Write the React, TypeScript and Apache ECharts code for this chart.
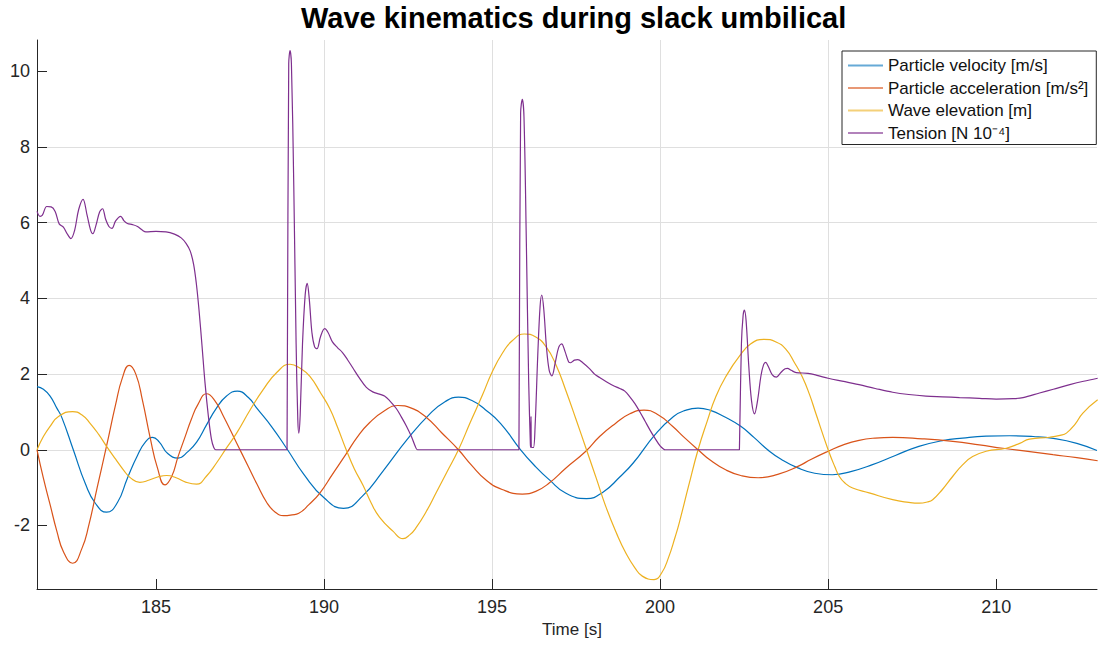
import React, { useEffect, useRef } from 'react';
import * as echarts from 'echarts';

const FONT = "'Liberation Sans', Arial, Helvetica, sans-serif";

const titleText = 'Wave kinematics during slack umbilical';
const xName = 'Time [s]';
const X_MIN = 181.46;
const X_MAX = 213.0;
const Y_MIN = -3.68;
const Y_MAX = 10.83;
const xTicks = [185, 190, 195, 200, 205, 210];
const yTicks = [-2, 0, 2, 4, 6, 8, 10];

const seriesNames = [
  'Particle velocity [m/s]',
  'Particle acceleration [m/s²]',
  'Wave elevation [m]',
  'Tension [N 10⁻⁴]',
];
const colors = ['#0072BD', '#D95319', '#EDB120', '#7E2F8E'];

const velocity: number[][] = [
  [181.46, 1.67], [181.65, 1.6], [181.85, 1.42], [182.05, 1.1], [182.2, 0.85], [182.54, 0.0],
  [182.9, -0.9], [183.2, -1.42], [183.53, -1.65], [183.85, -1.4], [184.15, -0.75], [184.45, -0.15],
  [184.7, 0.22], [184.9, 0.33], [185.1, 0.2], [185.35, -0.1], [185.66, -0.22], [185.95, -0.05],
  [186.21, 0.2], [186.5, 0.65], [186.8, 1.1], [187.1, 1.42], [187.42, 1.55], [187.75, 1.38],
  [188.0, 1.1], [188.45, 0.6], [188.9, 0.02], [189.4, -0.65], [190.0, -1.27], [190.58, -1.55],
  [191.15, -1.22], [191.75, -0.57], [192.5, 0.3], [193.15, 0.95], [193.6, 1.27], [194.0, 1.39],
  [194.4, 1.3], [194.8, 1.06], [195.25, 0.7], [195.85, 0.0], [196.3, -0.45], [196.7, -0.79],
  [197.2, -1.15], [197.81, -1.29], [198.3, -1.12], [198.8, -0.72], [199.2, -0.35], [199.85, 0.4],
  [200.4, 0.88], [200.75, 1.04], [201.13, 1.1], [201.5, 1.04], [201.9, 0.88], [202.4, 0.62],
  [202.8, 0.32], [203.2, 0.0], [203.6, -0.25], [204.1, -0.48], [204.6, -0.62], [205.13, -0.66],
  [205.7, -0.57], [206.3, -0.4], [207.0, -0.15], [207.7, 0.09], [208.4, 0.24], [209.0, 0.31],
  [209.7, 0.36], [210.4, 0.37], [211.1, 0.35], [211.7, 0.3], [212.4, 0.17], [213.0, -0.02],
];

const acceleration: number[][] = [
  [181.46, 0.0], [181.65, -0.75], [181.85, -1.45], [182.05, -2.15], [182.25, -2.7], [182.52, -3.0],
  [182.8, -2.6], [183.0, -2.0], [183.25, -1.0], [183.53, 0.1], [183.8, 1.2], [184.0, 1.9],
  [184.2, 2.23], [184.4, 2.0], [184.6, 1.3], [184.82, 0.35], [185.05, -0.5], [185.27, -0.93],
  [185.47, -0.7], [185.65, -0.2], [185.85, 0.3], [186.05, 0.8], [186.25, 1.2], [186.51, 1.48],
  [186.75, 1.3], [187.0, 0.9], [187.4, 0.18], [187.75, -0.45], [188.0, -0.9], [188.3, -1.4],
  [188.55, -1.65], [188.8, -1.74], [189.05, -1.72], [189.25, -1.68], [189.55, -1.45], [189.87, -1.15],
  [190.25, -0.65], [190.66, -0.11], [191.0, 0.35], [191.36, 0.72], [191.8, 1.03], [192.2, 1.17],
  [192.6, 1.1], [193.04, 0.86], [193.5, 0.45], [194.0, 0.0], [194.4, -0.42], [194.82, -0.8],
  [195.3, -1.05], [195.9, -1.17], [196.3, -1.1], [196.7, -0.88], [197.2, -0.48], [197.79, -0.04],
  [198.2, 0.35], [198.68, 0.7], [199.1, 0.95], [199.52, 1.05], [199.95, 0.92], [200.37, 0.62],
  [200.75, 0.3], [201.13, 0.0], [201.5, -0.28], [201.95, -0.53], [202.4, -0.68], [202.92, -0.74],
  [203.5, -0.65], [204.1, -0.44], [204.5, -0.25], [205.0, -0.04], [205.45, 0.13], [205.92, 0.25],
  [206.4, 0.31], [206.92, 0.33], [207.8, 0.29], [208.71, 0.22], [209.5, 0.13], [210.2, 0.04],
  [211.0, -0.05], [211.69, -0.13], [212.4, -0.21], [213.02, -0.29],
];

const elevation: number[][] = [
  [181.46, 0.0], [181.65, 0.35], [181.85, 0.62], [182.1, 0.88], [182.52, 1.01], [182.8, 0.92],
  [183.04, 0.7], [183.3, 0.4], [183.53, 0.09], [183.8, -0.25], [184.03, -0.53], [184.25, -0.75],
  [184.52, -0.86], [184.8, -0.8], [185.05, -0.72], [185.32, -0.68], [185.6, -0.74], [185.9, -0.86],
  [186.21, -0.91], [186.5, -0.7], [186.8, -0.35], [187.1, 0.05], [187.4, 0.44], [187.8, 1.05],
  [188.19, 1.59], [188.6, 2.05], [188.99, 2.26], [189.3, 2.15], [189.58, 1.94], [189.9, 1.5],
  [190.17, 1.09], [190.4, 0.6], [190.66, 0.0], [190.9, -0.5], [191.16, -0.94], [191.4, -1.4],
  [191.65, -1.78], [192.05, -2.15], [192.35, -2.35], [192.55, -2.25], [192.74, -2.06], [193.05, -1.62],
  [193.34, -1.13], [193.65, -0.6], [194.0, 0.0], [194.35, 0.72], [194.72, 1.46], [195.0, 2.05],
  [195.32, 2.57], [195.6, 2.88], [195.96, 3.06], [196.3, 2.98], [196.6, 2.73], [196.9, 2.25],
  [197.19, 1.58], [197.5, 0.8], [197.81, 0.0], [198.1, -0.75], [198.38, -1.49], [198.7, -2.2],
  [198.98, -2.73], [199.25, -3.12], [199.47, -3.34], [199.82, -3.43], [200.05, -3.25], [200.25, -2.85],
  [200.45, -2.3], [200.57, -1.93], [200.85, -0.95], [201.13, 0.0], [201.4, 0.75], [201.66, 1.41],
  [202.0, 2.0], [202.35, 2.46], [202.7, 2.8], [203.09, 2.92], [203.45, 2.85], [203.74, 2.66],
  [204.0, 2.3], [204.23, 1.93], [204.45, 1.45], [204.63, 0.97], [205.0, 0.0], [205.2, -0.45],
  [205.33, -0.7], [205.5, -0.88], [205.73, -1.01], [206.22, -1.14], [206.92, -1.32], [207.4, -1.39],
  [207.71, -1.41], [207.95, -1.38], [208.11, -1.32], [208.4, -1.05], [208.71, -0.7], [209.0, -0.4],
  [209.3, -0.18], [209.7, -0.04], [210.3, 0.04], [210.7, 0.17], [210.99, 0.28], [211.59, 0.33],
  [211.9, 0.38], [212.09, 0.44], [212.35, 0.68], [212.58, 0.97], [213.02, 1.32],
];

const tension: number[][] = [
  [181.46, 6.3], [181.55, 6.17], [181.62, 6.2], [181.75, 6.43], [181.88, 6.42], [182.0, 6.3],
  [182.12, 5.97], [182.25, 5.88], [182.35, 5.72], [182.47, 5.58], [182.58, 5.8], [182.7, 6.35],
  [182.83, 6.62], [182.95, 6.2], [183.05, 5.82], [183.12, 5.71], [183.22, 5.95], [183.32, 6.28],
  [183.41, 6.37], [183.5, 6.1], [183.6, 5.9], [183.69, 5.85], [183.8, 6.05], [183.95, 6.17],
  [184.05, 6.05], [184.15, 5.98], [184.3, 5.95], [184.45, 5.9], [184.6, 5.8], [184.7, 5.76],
  [185.0, 5.77], [185.3, 5.76], [185.55, 5.7], [185.75, 5.6], [185.9, 5.45], [186.02, 5.25],
  [186.12, 4.9], [186.2, 4.4], [186.28, 3.7], [186.37, 2.75], [186.46, 1.76], [186.56, 0.88],
  [186.65, 0.28], [186.72, 0.06], [186.78, 0.0], [188.9, 0.0], [188.92, 0.0], [188.95, 10.2],
  [188.99, 10.55], [189.03, 10.2], [189.1, 7.0], [189.17, 2.8], [189.22, 0.8], [189.25, 0.44],
  [189.29, 0.9], [189.36, 2.8], [189.44, 4.1], [189.5, 4.4], [189.56, 4.0], [189.64, 3.1],
  [189.72, 2.72], [189.79, 2.67], [189.9, 3.0], [190.02, 3.2], [190.12, 3.1], [190.25, 2.85],
  [190.4, 2.7], [190.55, 2.57], [190.7, 2.38], [190.86, 2.16], [191.05, 1.9], [191.26, 1.65],
  [191.45, 1.53], [191.65, 1.47], [191.8, 1.42], [191.95, 1.3], [192.15, 1.09], [192.3, 0.87],
  [192.45, 0.63], [192.6, 0.35], [192.72, 0.08], [192.78, 0.0], [195.8, 0.0], [195.82, 0.0],
  [195.85, 8.9], [195.9, 9.26], [195.95, 8.8], [196.02, 5.5], [196.09, 1.8], [196.14, 0.15],
  [196.15, 0.06], [196.16, 0.88], [196.17, 0.06], [196.23, 0.06], [196.28, 0.6], [196.36, 2.5],
  [196.43, 3.8], [196.48, 4.09], [196.54, 3.7], [196.62, 2.7], [196.7, 2.1], [196.78, 1.95],
  [196.88, 2.3], [196.98, 2.7], [197.07, 2.8], [197.17, 2.6], [197.28, 2.32], [197.34, 2.3],
  [197.45, 2.37], [197.55, 2.38], [197.7, 2.3], [197.89, 2.15], [198.05, 2.0], [198.2, 1.91],
  [198.4, 1.8], [198.6, 1.7], [198.8, 1.62], [198.95, 1.55], [199.1, 1.4], [199.25, 1.22],
  [199.4, 1.0], [199.55, 0.76], [199.7, 0.52], [199.85, 0.3], [200.0, 0.1], [200.1, 0.02],
  [200.15, 0.0], [202.36, 0.0], [202.38, 0.0], [202.42, 2.8], [202.47, 3.55], [202.51, 3.69],
  [202.56, 3.4], [202.64, 2.2], [202.72, 1.3], [202.81, 0.95], [202.9, 1.3], [203.0, 1.95],
  [203.08, 2.25], [203.14, 2.31], [203.22, 2.2], [203.34, 1.98], [203.46, 1.92], [203.6, 2.05],
  [203.72, 2.14], [203.79, 2.15], [203.9, 2.1], [204.05, 2.04], [204.4, 2.02], [204.7, 1.96],
  [205.0, 1.89], [205.5, 1.8], [205.92, 1.72], [206.4, 1.62], [206.92, 1.52], [207.4, 1.46],
  [207.91, 1.42], [208.4, 1.4], [208.91, 1.38], [209.5, 1.36], [210.0, 1.34], [210.5, 1.35],
  [210.8, 1.38], [211.29, 1.5], [211.7, 1.6], [212.19, 1.72], [212.6, 1.81], [213.02, 1.89],
];

const seriesData = [velocity, acceleration, elevation, tension];
const smoothness = [0.5, 0.5, 0.5, 0.35];

export default function App() {
  const ref = useRef<HTMLDivElement>(null);

  useEffect(() => {
    if (!ref.current) return;
    const chart = echarts.init(ref.current, null, { renderer: 'svg' });
    const axisColor = '#262626';
    chart.setOption({
      animation: false,
      backgroundColor: '#ffffff',
      title: {
        text: titleText,
        left: 301,
        top: 3,
        padding: 0,
        textStyle: { fontSize: 29, fontWeight: 'bold', fontFamily: FONT, color: '#000000' },
      },
      grid: { left: 37, right: 1, top: 40, bottom: 56 },
      legend: {
        orient: 'vertical',
        left: 842,
        top: 51,
        padding: [6, 8, 3, 6],
        itemWidth: 35,
        itemHeight: 2,
        itemGap: 5.5,
        icon: 'rect',
        backgroundColor: '#ffffff',
        borderColor: axisColor,
        borderWidth: 1,
        borderRadius: 0,
        selectedMode: false,
        textStyle: { fontSize: 17, color: '#111111', fontFamily: FONT },
        data: seriesNames.map((name, i) => ({
          name,
          icon: 'rect',
          itemStyle: { color: colors[i], borderWidth: 0, opacity: 0.6 },
        })),
      },
      xAxis: {
        type: 'value',
        min: X_MIN,
        max: X_MAX,
        minInterval: 5,
        maxInterval: 5,
        name: xName,
        nameLocation: 'middle',
        nameGap: 32,
        nameTextStyle: { fontSize: 17, color: axisColor, fontFamily: FONT, padding: [0, 0, 0, 10] },
        axisLine: { show: true, onZero: false, lineStyle: { color: axisColor, width: 1 } },
        axisTick: { show: true, inside: true, length: 10, customValues: xTicks, lineStyle: { color: axisColor } },
        axisLabel: { customValues: xTicks, fontSize: 18, color: axisColor, fontFamily: FONT, margin: 9 },
        splitLine: { show: true, showMinLine: false, showMaxLine: false, lineStyle: { color: '#dfdfdf', width: 1 } },
      },
      yAxis: {
        type: 'value',
        min: Y_MIN,
        max: Y_MAX,
        minInterval: 2,
        maxInterval: 2,
        axisLine: { show: true, onZero: false, lineStyle: { color: axisColor, width: 1 } },
        axisTick: { show: true, inside: true, length: 10, customValues: yTicks, lineStyle: { color: axisColor } },
        axisLabel: { customValues: yTicks, fontSize: 18, color: axisColor, fontFamily: FONT, margin: 7 },
        splitLine: { show: true, showMinLine: false, showMaxLine: false, lineStyle: { color: '#dfdfdf', width: 1 } },
      },
      series: seriesNames.map((name, i) => ({
        name,
        type: 'line',
        data: seriesData[i],
        color: colors[i],
        itemStyle: { color: colors[i] },
        showSymbol: false,
        symbol: 'none',
        smooth: smoothness[i],
        clip: true,
        lineStyle: { width: 1.2, color: colors[i] },
        emphasis: { disabled: true },
        z: 2 + i,
      })),
    });
    return () => chart.dispose();
  }, []);

  return (
    <div
      ref={ref}
      style={{ position: 'fixed', left: 0, top: 0, width: 1098, height: 645, background: '#ffffff' }}
    />
  );
}
